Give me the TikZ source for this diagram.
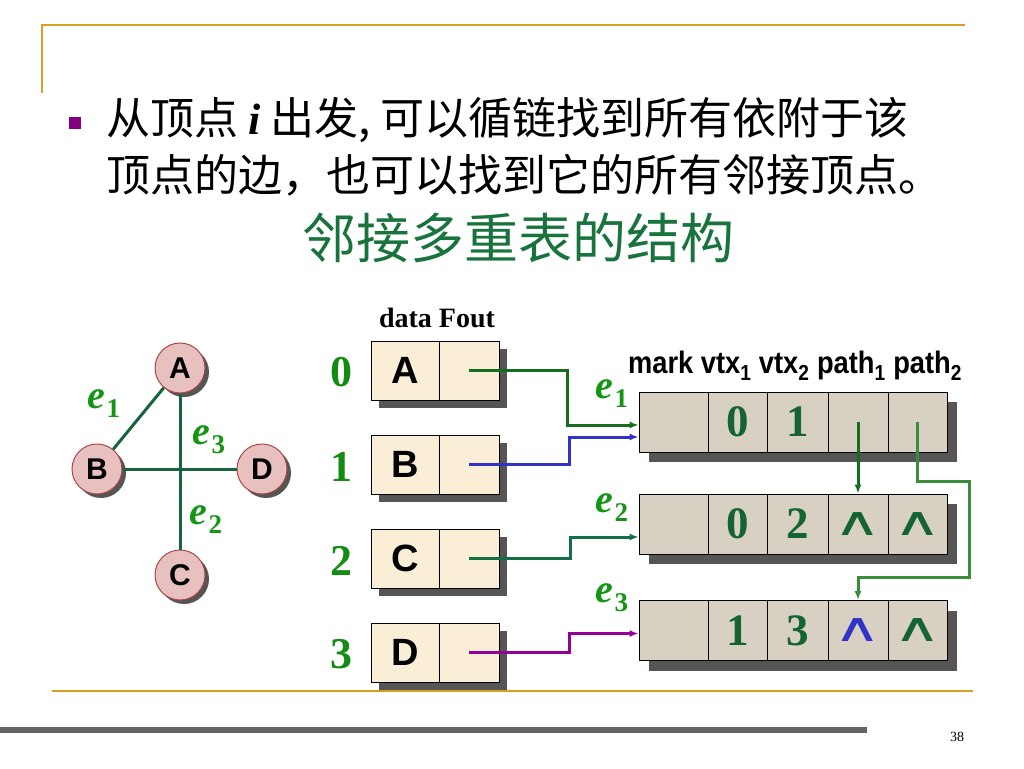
\documentclass[tikz,border=0pt]{standalone}
\usepackage{fontspec}
\setmainfont{Liberation Serif}
\newfontfamily\cjk{Noto Sans CJK SC}
\newfontfamily\arial{Liberation Sans}
\newfontfamily\dejavu{DejaVu Sans}
\usetikzlibrary{shadows,calc,arrows.meta}
\definecolor{gold}{RGB}{215,160,30}
\definecolor{barg}{RGB}{100,100,100}
\definecolor{titleg}{RGB}{25,115,60}
\definecolor{bulletp}{RGB}{128,0,128}
\definecolor{vfill}{RGB}{232,192,192}
\definecolor{vdraw}{RGB}{170,70,70}
\definecolor{edgeg}{RGB}{20,100,60}
\definecolor{labg}{RGB}{20,150,20}
\definecolor{idxg}{RGB}{20,140,20}
\definecolor{cellg}{RGB}{20,100,50}
\definecolor{lfill}{RGB}{250,238,215}
\definecolor{rfill}{RGB}{215,208,195}
\definecolor{shad}{RGB}{85,85,85}
\definecolor{cA}{RGB}{20,110,30}
\definecolor{cB}{RGB}{50,50,200}
\definecolor{cC}{RGB}{20,110,70}
\definecolor{cD}{RGB}{150,0,150}
\definecolor{cP}{RGB}{60,140,60}
\newcommand{\elab}[1]{{\fontsize{40}{40}\selectfont\bfseries\itshape e}\kern1pt\raisebox{-9pt}{\fontsize{27}{27}\selectfont\bfseries #1}}
\tikzset{
  vtxnode/.style={circle, minimum size=50pt, inner sep=0pt, draw=vdraw, line width=1pt, fill=vfill,
    font=\arial\bfseries\fontsize{30}{30}\selectfont,
    drop shadow={shadow xshift=4pt, shadow yshift=-4pt, fill=shad, opacity=1}},
  lcell/.style={rectangle, minimum height=59pt, inner sep=0pt, draw=black, line width=0.8pt, fill=lfill,
    font=\arial\bfseries\fontsize{38}{38}\selectfont,
    drop shadow={shadow xshift=8pt, shadow yshift=-8pt, fill=shad, opacity=1}},
  rcell/.style={rectangle, minimum height=60pt, inner sep=0pt, draw=black, line width=0.8pt, fill=rfill,
    font=\bfseries\fontsize{44}{44}\selectfont, text=cellg,
    drop shadow={shadow xshift=10pt, shadow yshift=-10pt, fill=shad, opacity=1}},
  idx/.style={font=\bfseries\fontsize{44}{44}\selectfont, text=idxg},
  elabel/.style={text=labg, inner sep=0pt},
  gedge/.style={draw=edgeg, line width=3pt},
  conn/.style={line width=3pt, -{Latex[length=9pt,width=7pt]}},
  goldline/.style={draw=gold, line width=2.5pt},
  celltxt/.style={text=cellg, font=\bfseries\fontsize{45}{45}\selectfont},
}
\newcommand{\wedg}[1]{{\dejavu\fontsize{44}{44}\selectfont\textcolor{#1}{\scalebox{1.5}[0.9]{∧}}}}
\begin{document}
\begin{tikzpicture}[x=1pt,y=-1pt]
\useasboundingbox (0,0) rectangle (1024,768);
% frame lines
\draw[goldline] (42,93) -- (42,25) -- (965,25);
\draw[goldline] (52,691) -- (973,691);
\fill[barg] (0,727) rectangle (867,733);
\node[font=\fontsize{14}{14}\selectfont] (pg) at (957,737) {38};
% bullet and text
\fill[bulletp] (69,117) rectangle (81,129);
\node[anchor=west, inner sep=0pt, font=\cjk\fontsize{44}{50}\selectfont] (l1) at (106,120)
  {从顶点 {\rmfamily\bfseries\itshape i} 出发, 可以循链找到所有依附于该};
\node[anchor=west, inner sep=0pt, font=\cjk\fontsize{44}{50}\selectfont] (l2) at (106,175)
  {顶点的边，也可以找到它的所有邻接顶点。};
\node[font=\cjk\fontsize{54}{60}\selectfont, text=titleg] (title) at (518,238) {邻接多重表的结构};
% graph
\node[vtxnode] (A) at (180,368) {A};
\node[vtxnode] (B) at (97,469) {B};
\node[vtxnode] (D) at (262,469) {D};
\node[vtxnode] (C) at (180,575) {C};
\draw[gedge] (A) -- (B);
\draw[gedge] (A) -- (C);
\draw[gedge] (B) -- (D);
\node[elabel] (ge1) at (104,404) {\elab{1}};
\node[elabel] (ge3) at (209,440) {\elab{3}};
\node[elabel] (ge2) at (206,520) {\elab{2}};
% vertex table
\node[font=\bfseries\fontsize{28}{28}\selectfont] (hdr1) at (437,318) {data Fout};
\foreach \i/\l/\y in {0/A/370.5,1/B/464.5,2/C/558.5,3/D/652.5}{
  \node[idx] (n\i) at (341,\y+2) {\i};
  \node[lcell, minimum width=68pt] (d\i) at (405,\y) {\l};
  \node[lcell, minimum width=60pt] (f\i) at (469,\y) {};
}
% edge table
\node[font=\arial\bfseries\fontsize{31}{31}\selectfont, inner sep=0pt] (hdr2) at (795,366)
  {\scalebox{0.88}[1]{mark vtx\textsubscript{1} vtx\textsubscript{2} path\textsubscript{1} path\textsubscript{2}}};
\foreach \r/\y in {1/422,2/524,3/630.5}{
  \node[rcell, minimum width=69pt] (m\r) at (673.5,\y) {};
  \node[rcell, minimum width=59pt] (v\r) at (737.5,\y) {};
  \node[rcell, minimum width=61pt] (w\r) at (797.5,\y) {};
  \node[rcell, minimum width=60pt] (p\r) at (858,\y) {};
  \node[rcell, minimum width=59pt] (q\r) at (917.5,\y) {};
}
\node[celltxt] (t1a) at (v1) {0};
\node[celltxt] (t1b) at (w1) {1};
\node[celltxt] (t2a) at (v2) {0};
\node[celltxt] (t2b) at (w2) {2};
\node[celltxt] (t3a) at (v3) {1};
\node[celltxt] (t3b) at (w3) {3};
\node (t2c) at (p2) {\wedg{cellg}};
\node (t2d) at (q2) {\wedg{cellg}};
\node (t3c) at (p3) {\wedg{cB}};
\node (t3d) at (q3) {\wedg{cellg}};
\node[elabel] (re1) at (612,394) {\elab{1}};
\node[elabel] (re2) at (612,508) {\elab{2}};
\node[elabel] (re3) at (612,598) {\elab{3}};
% connectors
\draw[conn, cA] (f0.center) -- ++(98,0) |- ($(m1.west)+(0,3)$);
\draw[conn, cB] (f1.center) -- ++(100,0) |- ($(m1.west)+(0,15)$);
\draw[conn, cC] (f2.center) -- ++(101,0) |- ($(m2.west)+(0,13)$);
\draw[conn, cD] (f3.center) -- ++(100,0) |- ($(m3.west)+(0,3)$);
\draw[conn, cA] (p1.center) -- (p2.north);
\draw[conn, cP] (q1.center) -- ++(0,59) -- ++(52,0) -- ++(0,96) -| (p3.north);
\end{tikzpicture}
\end{document}
